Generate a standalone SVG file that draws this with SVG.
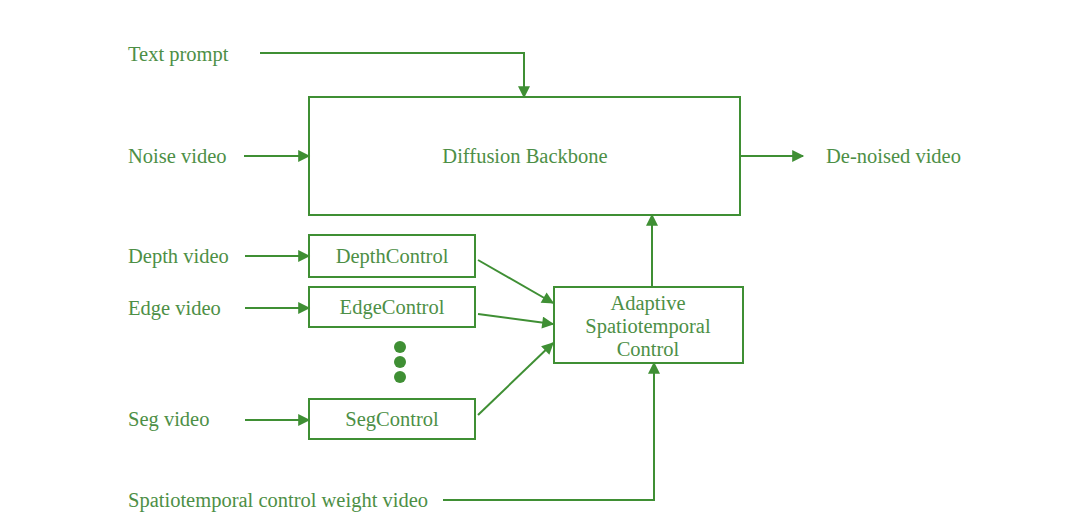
<svg xmlns="http://www.w3.org/2000/svg" width="1080" height="514" viewBox="0 0 1080 514">
<style>
text{font-family:"Liberation Serif","Times New Roman",serif;font-size:20.5px;fill:#4d8f46}
.c{text-anchor:middle}
.box{fill:none;stroke:#3f8f34;stroke-width:2}
.ln{fill:none;stroke:#3f8f34;stroke-width:2}
</style>
<defs>
<marker id="ah" viewBox="0 0 10 10" refX="9" refY="5" markerWidth="13" markerHeight="12" markerUnits="userSpaceOnUse" orient="auto"><path d="M0,0 L10,5 L0,10 z" fill="#3f8f34"/></marker>
</defs>
<rect width="1080" height="514" fill="#ffffff"/>
<g id="labels">
<text x="128" y="61">Text prompt</text>
<text x="128" y="163">Noise video</text>
<text x="826" y="163">De-noised video</text>
<text x="128" y="263">Depth video</text>
<text x="128" y="315">Edge video</text>
<text x="128" y="426">Seg video</text>
<text x="128" y="507">Spatiotemporal control weight video</text>
</g>
<g id="diffusion"><rect class="box" x="309" y="97" width="431" height="118"/><text class="c" x="525" y="163">Diffusion Backbone</text></g>
<g id="depth"><rect class="box" x="309" y="235" width="166" height="42"/><text class="c" x="392" y="263">DepthControl</text></g>
<g id="edge"><rect class="box" x="309" y="287" width="166" height="40"/><text class="c" x="392" y="314">EdgeControl</text></g>
<g id="dots" fill="#3f8f34"><circle cx="400" cy="347" r="6"/><circle cx="400" cy="362" r="6"/><circle cx="400" cy="377" r="6"/></g>
<g id="seg"><rect class="box" x="309" y="399" width="166" height="40"/><text class="c" x="392" y="426">SegControl</text></g>
<g id="adaptive"><rect class="box" x="554" y="287" width="189" height="76"/>
<text class="c" x="648" y="310">Adaptive</text><text class="c" x="648" y="333">Spatiotemporal</text><text class="c" x="648" y="356">Control</text></g>
<g id="connectors" class="ln">
<path class="ln" d="M260,53 H524 V97" marker-end="url(#ah)"/>
<path class="ln" d="M244,156 H309" marker-end="url(#ah)"/>
<path class="ln" d="M740,156 H803" marker-end="url(#ah)"/>
<path class="ln" d="M245,256 H309" marker-end="url(#ah)"/>
<path class="ln" d="M245,308 H309" marker-end="url(#ah)"/>
<path class="ln" d="M245,420 H309" marker-end="url(#ah)"/>
<path class="ln" d="M478,260 L553,303" marker-end="url(#ah)"/>
<path class="ln" d="M478,314 L553,324" marker-end="url(#ah)"/>
<path class="ln" d="M478,415 L553,343" marker-end="url(#ah)"/>
<path class="ln" d="M652,287 V215" marker-end="url(#ah)"/>
<path class="ln" d="M443,500 H654 V363" marker-end="url(#ah)"/>
</g>
</svg>
